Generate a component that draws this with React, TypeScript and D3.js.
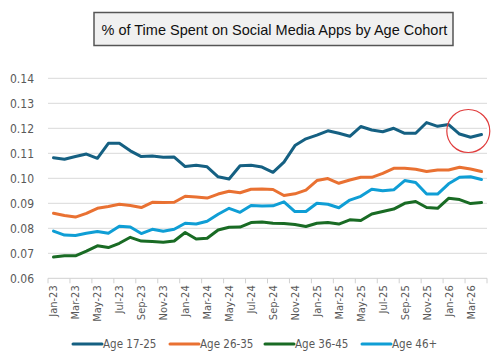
import * as d3 from 'd3'

const months = [
    'Jan-23', 'Feb-23', 'Mar-23', 'Apr-23', 'May-23', 'Jun-23', 'Jul-23', 'Aug-23', 'Sep-23', 'Oct-23', 'Nov-23', 'Dec-23',
    'Jan-24', 'Feb-24', 'Mar-24', 'Apr-24', 'May-24', 'Jun-24', 'Jul-24', 'Aug-24', 'Sep-24', 'Oct-24', 'Nov-24', 'Dec-24',
    'Jan-25', 'Feb-25', 'Mar-25', 'Apr-25', 'May-25', 'Jun-25', 'Jul-25', 'Aug-25', 'Sep-25', 'Oct-25', 'Nov-25', 'Dec-25',
    'Jan-26', 'Feb-26', 'Mar-26', 'Apr-26'
]

const age1725 = [
    0.1082, 0.1076, 0.1087, 0.1097, 0.1080, 0.1140, 0.1140, 0.1110, 0.1087, 0.1089, 0.1084, 0.1085,
    0.1047, 0.1052, 0.1046, 0.1006, 0.0997, 0.1050, 0.1052, 0.1045, 0.1024, 0.1065, 0.1131, 0.1158,
    0.1173, 0.1190, 0.1180, 0.1168, 0.1207, 0.1193, 0.1186, 0.1200, 0.1180, 0.1180, 0.1223, 0.1208,
    0.1215, 0.1177, 0.1164, 0.1175
]
const age2635 = [
    0.0860, 0.0851, 0.0845, 0.0860, 0.0880, 0.0887, 0.0896, 0.0891, 0.0883, 0.0904, 0.0903, 0.0904,
    0.0928, 0.0925, 0.0921, 0.0937, 0.0948, 0.0942, 0.0956, 0.0957, 0.0955, 0.0931, 0.0938, 0.0953,
    0.0991, 0.0999, 0.0980, 0.0993, 0.1004, 0.1004, 0.1020, 0.1040, 0.1040, 0.1036, 0.1027, 0.1033,
    0.1033, 0.1044, 0.1037, 0.1027
]
const age3645 = [
    0.0685, 0.0690, 0.0690, 0.0709, 0.0730, 0.0723, 0.0740, 0.0764, 0.0749, 0.0747, 0.0744, 0.0749,
    0.0783, 0.0757, 0.0760, 0.0793, 0.0804, 0.0805, 0.0823, 0.0825, 0.0820, 0.0819, 0.0815, 0.0807,
    0.0820, 0.0823, 0.0817, 0.0834, 0.0831, 0.0857, 0.0867, 0.0877, 0.0900, 0.0907, 0.0883, 0.0880,
    0.0920, 0.0915, 0.0899, 0.0903
]
const age46plus = [
    0.0789, 0.0773, 0.0771, 0.0780, 0.0787, 0.0780, 0.0808, 0.0805, 0.0779, 0.0796, 0.0788, 0.0796,
    0.0820, 0.0817, 0.0828, 0.0856, 0.0880, 0.0864, 0.0891, 0.0889, 0.0890, 0.0906, 0.0867, 0.0867,
    0.0900, 0.0896, 0.0882, 0.0913, 0.0928, 0.0956, 0.0950, 0.0954, 0.0991, 0.0983, 0.0937, 0.0937,
    0.0978, 0.1004, 0.1006, 0.0995
]

const seriesNames = ['Age 17-25', 'Age 26-35', 'Age 36-45', 'Age 46+']
const yTicks = [0.06, 0.07, 0.08, 0.09, 0.10, 0.11, 0.12, 0.13, 0.14]

const colors = ['#156082', '#E97132', '#196B24', '#0F9ED5']
const labelFont = '"Liberation Sans Narrow", "DejaVu Sans Condensed", "Liberation Sans", sans-serif'

const App = () => {
    const width = 501
    const height = 362
    const plot = { left: 48, right: 487, top: 78.3, bottom: 278.3 }

    const x = d3.scalePoint<string>().domain(months).range([plot.left, plot.right]).padding(0.5)
    const step = x.step()
    const y = d3.scaleLinear().domain([0.06, 0.14]).range([plot.bottom, plot.top])

    const series = [age1725, age2635, age3645, age46plus]
    const line = d3.line<number>()
        .x((_, i) => x(months[i]) as number)
        .y(d => y(d))

    // tick marks sit on category boundaries, every second month
    const tickXs = months
        .filter((_, i) => i % 2 === 0)
        .map(m => (x(m) as number) - step / 2)
        .concat([plot.right])

    const legendX = [73, 170, 265, 362]

    return (
        <div style={{ position: 'absolute', left: 0, top: 0 }}>
            <svg width={width} height={height} style={{ display: 'block', background: '#fff' }}>
                {yTicks.map(t => (
                    <g key={t}>
                        <line x1={plot.left} x2={plot.right} y1={y(t)} y2={y(t)}
                            stroke={t === 0.06 ? '#d0d0d0' : '#d9d9d9'} strokeWidth={1} />
                        <text x={34} y={y(t)} dy="0.35em" textAnchor="end"
                            fontFamily={labelFont} fontSize={12} fill="#595959">
                            {d3.format('.2f')(t)}
                        </text>
                    </g>
                ))}

                {tickXs.map((tx, i) => (
                    <line key={i} x1={tx} x2={tx} y1={plot.bottom} y2={plot.bottom + 5}
                        stroke="#d0d0d0" strokeWidth={1} />
                ))}

                {months.map((m, i) => i % 2 === 0 && i < 39 ? (
                    <text key={m}
                        transform={`translate(${(x(m) as number) + 4},${plot.bottom + 7}) rotate(-90)`}
                        textAnchor="end" fontFamily={labelFont} fontSize={11} fill="#595959">
                        {m}
                    </text>
                ) : null)}

                {series.map((s, i) => (
                    <path key={seriesNames[i]} d={line(s) ?? ''} fill="none"
                        stroke={colors[i]} strokeWidth={3} strokeLinejoin="round" strokeLinecap="round" />
                ))}

                <circle cx={468.3} cy={131} r={21.5} fill="none" stroke="#e03c3c" strokeWidth={1.2} />

                {seriesNames.map((name, i) => (
                    <g key={name} transform={`translate(${legendX[i]},344)`}>
                        <line x1={0} x2={29} y1={0} y2={0} stroke={colors[i]} strokeWidth={3} strokeLinecap="round" />
                        <text x={30} y={0} dy="0.35em" fontFamily={labelFont} fontSize={11.5} fill="#595959">
                            {name}
                        </text>
                    </g>
                ))}

                <rect x={94} y={12.5} width={359} height={33} fill="#f0f0f0" stroke="#555" strokeWidth={1.5} />
                <text x={101.5} y={29.5} dy="0.35em" fontFamily='"Liberation Sans", Arial, sans-serif'
                    fontSize={14.5} fill="#111">
                    % of Time Spent on Social Media Apps by Age Cohort
                </text>
            </svg>
        </div>
    )
}

export default App
